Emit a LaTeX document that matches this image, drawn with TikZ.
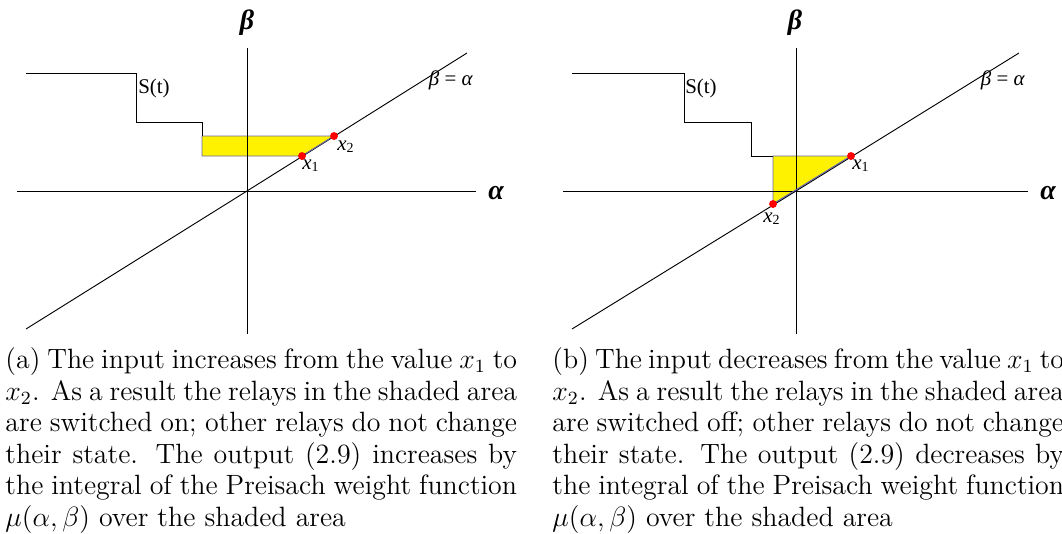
\documentclass[tikz,border=0pt]{standalone}
\usepackage{fontspec}
\newfontfamily\figfont{Liberation Serif}
\definecolor{shadeedge}{RGB}{105,105,165}
\newcommand{\xsub}[1]{\textit{x}\textsubscript{#1}}
\tikzset{
  axis/.style={line width=0.4pt},
  stair/.style={line width=0.4pt},
  shade/.style={fill=yellow, draw=shadeedge, line width=0.4pt},
  rim/.style={draw=shadeedge, line width=0.4pt},
  dot/.style={circle, fill=red, inner sep=0pt, minimum size=3.4pt},
  lbl/.style={font=\figfont\fontsize{9}{10}\selectfont, inner sep=0pt},
  axlbl/.style={font=\figfont\fontsize{12}{13}\selectfont\bfseries\itshape, inner sep=0pt},
  capt/.style={anchor=north west, inner sep=0pt, text width=220pt, align=justify,
    font=\fontsize{12}{13.6}\selectfont}
}
\begin{document}
\begin{tikzpicture}[x=0.43pt, y=-0.43pt]
\useasboundingbox (0,0) rectangle (1062,534);

% (a) input increases
\coordinate (oa) at (247,191);
\filldraw[shade] (202,136) -- (334,136) -- (302,156) -- (202,156) -- cycle;
\draw[axis] (17,191) -- (476,191);
\draw[axis] (247,48) -- (247,334);
\draw[axis] (26,329) -- (oa) -- (467,53);
\draw[stair] (26,73) -| (136,122) -| (202,136);
\node[dot] (x1a) at (302,156) {};
\node[dot] (x2a) at (334,136) {};
\draw[rim] (x1a) -- (x2a);
\node[axlbl] (betaa) at (247,23) {β};
\node[axlbl] (alphaa) at (496,193) {α};
\node[lbl] (sa) at (154,88) {S(t)};
\node[lbl] (diaga) at (451,80) {\textit{β} = \textit{α}};
\node[lbl] (lx1a) at (311,166) {\xsub{1}};
\node[lbl] (lx2a) at (346,147) {\xsub{2}};

% (b) input decreases
\coordinate (ob) at (796,191);
\filldraw[shade] (773,156) -- (851,156) -- (773,204) -- cycle;
\draw[axis] (563,191) -- (1028,191);
\draw[axis] (796,48) -- (796,334);
\draw[axis] (572,329) -- (ob) -- (1019,53);
\draw[stair] (572,73) -| (684,122) -| (751,156) -- (773,156);
\node[dot] (x1b) at (851,156) {};
\node[dot] (x2b) at (773,204) {};
\draw[rim] (x2b) -- (x1b);
\node[axlbl] (betab) at (795,23) {β};
\node[axlbl] (alphab) at (1048,193) {α};
\node[lbl] (sb) at (701,88) {S(t)};
\node[lbl] (diagb) at (1003,80) {\textit{β} = \textit{α}};
\node[lbl] (lx1b) at (861,166) {\xsub{1}};
\node[lbl] (lx2b) at (772,219) {\xsub{2}};

% captions
\node[capt] (capa) at (5,347) {(a) The input increases from the value $x_1$ to $x_2$. As a result the relays in the shaded area are switched on; other relays do not change their state. The output (2.9) increases by the integral of the Preisach weight function $\mu(\alpha,\beta)$ over the shaded area};
\node[capt] (capb) at (552,347) {(b) The input decreases from the value $x_1$ to $x_2$. As a result the relays in the shaded area are switched off; other relays do not change their state. The output (2.9) decreases by the integral of the Preisach weight function $\mu(\alpha,\beta)$ over the shaded area};
\end{tikzpicture}
\end{document}
